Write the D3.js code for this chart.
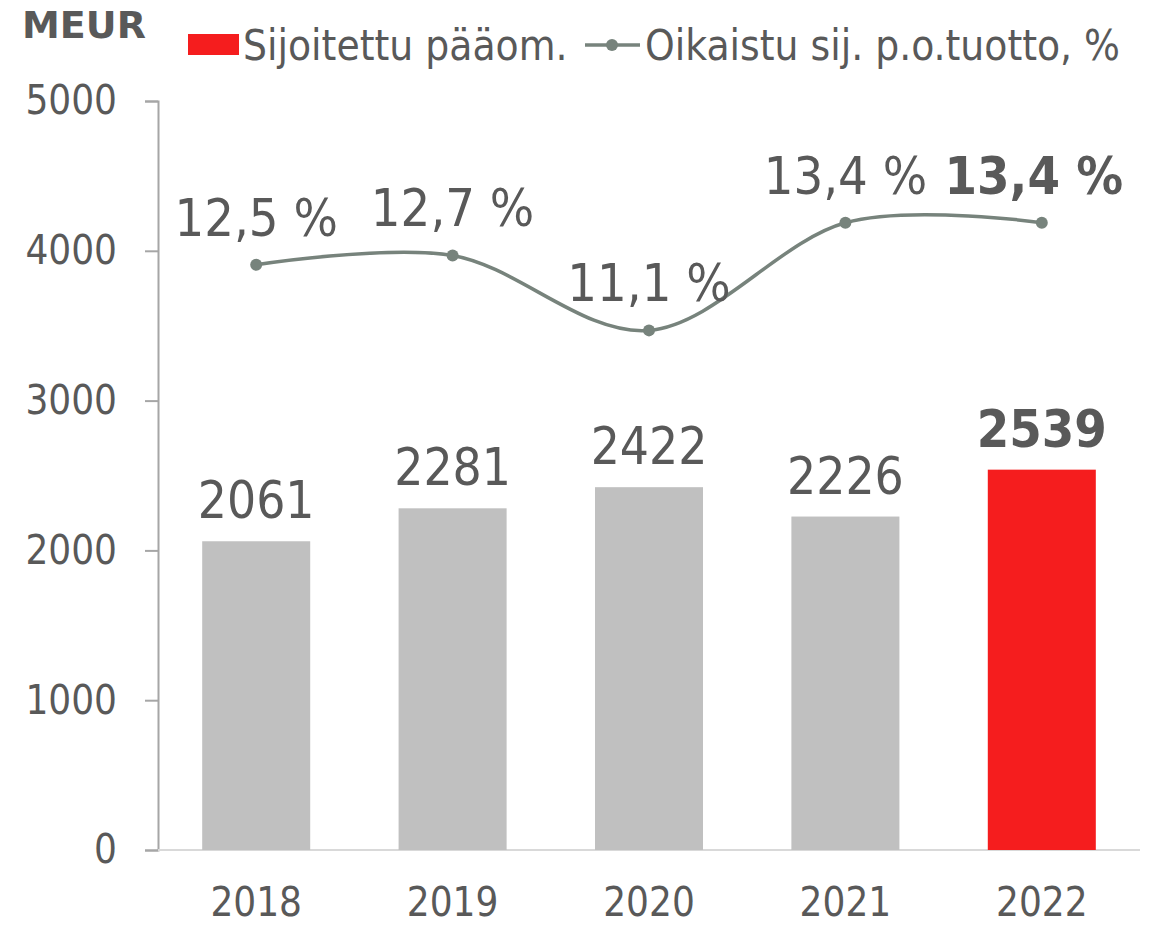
<!DOCTYPE html>
<html>
<head>
<meta charset="utf-8">
<script src="https://cdn.jsdelivr.net/npm/d3@7"></script>
<style>
  body { margin: 0; background: #fff; }
  text { font-family: "DejaVu Sans Condensed", "DejaVu Sans", sans-serif; fill: #595959; }
</style>
</head>
<body>
<div id="chart"></div>
<script>
var years = ["2018", "2019", "2020", "2021", "2022"];
var capital = [2061, 2281, 2422, 2226, 2539];
var returnPct = [12.5, 12.7, 11.1, 13.4, 13.4];
var returnLabels = ["12,5 %", "12,7 %", "11,1 %", "13,4 %", "13,4 %"];
var yTicks = [0, 1000, 2000, 3000, 4000, 5000];

var svgWidth = 1163;
var svgHeight = 925;

var margin = { top: 101, right: 23, bottom: 75, left: 158 };
var width = svgWidth - margin.left - margin.right;
var height = svgHeight - margin.top - margin.bottom;

var svg = d3.select("#chart")
  .append("svg")
    .attr("width", svgWidth)
    .attr("height", svgHeight);

var chartGroup = svg.append("g")
  .attr("transform", `translate(${margin.left}, ${margin.top})`);

// scales
var xScale = d3.scaleBand()
  .domain(years)
  .range([0, width])
  .paddingInner(0.45)
  .paddingOuter(0.225);

var yScale = d3.scaleLinear()
  .domain([0, 5000])
  .range([height, 0]);

// hidden secondary axis for the percentage line
var y2Scale = d3.scaleLinear()
  .domain([0, 16])
  .range([height, 0]);

// y axis
var leftAxis = d3.axisLeft(yScale)
  .tickValues(yTicks)
  .tickSize(13)
  .tickPadding(28)
  .tickFormat(d3.format("d"));

var yAxisG = chartGroup.append("g").call(leftAxis);
yAxisG.select(".domain").attr("stroke", "#a6a6a6").attr("stroke-width", 2);
yAxisG.selectAll(".tick line").attr("stroke", "#a6a6a6").attr("stroke-width", 2);
yAxisG.selectAll(".tick text")
  .attr("font-size", 40)
  .attr("fill", "#595959")
  .style("font-family", "DejaVu Sans Condensed");

// baseline
chartGroup.append("line")
  .attr("x1", 0)
  .attr("x2", width)
  .attr("y1", yScale(0))
  .attr("y2", yScale(0))
  .attr("stroke", "#d9d9d9")
  .attr("stroke-width", 2);

// x labels
var bottomAxis = d3.axisBottom(xScale).tickSize(0).tickPadding(0);
var xAxisG = chartGroup.append("g")
  .attr("transform", `translate(0, ${height})`)
  .call(bottomAxis);
xAxisG.select(".domain").remove();
xAxisG.selectAll(".tick text")
  .attr("dy", null)
  .attr("y", 66)
  .attr("font-size", 40)
  .attr("fill", "#595959")
  .style("font-family", "DejaVu Sans Condensed");

// bars
chartGroup.selectAll("rect.bar")
  .data(capital)
  .enter()
  .append("rect")
  .attr("class", "bar")
  .attr("x", (d, i) => xScale(years[i]))
  .attr("y", d => yScale(d))
  .attr("width", xScale.bandwidth())
  .attr("height", d => yScale(0) - yScale(d))
  .attr("fill", (d, i) => i === years.length - 1 ? "#f51d1e" : "#c0c0c0");

chartGroup.selectAll("text.barLabel")
  .data(capital)
  .enter()
  .append("text")
  .attr("class", "barLabel")
  .attr("x", (d, i) => xScale(years[i]) + xScale.bandwidth() / 2)
  .attr("y", d => yScale(d) - 23)
  .attr("text-anchor", "middle")
  .attr("font-size", (d, i) => i === years.length - 1 ? 52 : 51)
  .attr("font-weight", (d, i) => i === years.length - 1 ? "bold" : "normal")
  .text(d => d);

// return line
var lineData = returnPct.map((v, i) => ({ year: years[i], value: v, label: returnLabels[i] }));
var cx = d => xScale(d.year) + xScale.bandwidth() / 2;

var line = d3.line()
  .x(cx)
  .y(d => y2Scale(d.value))
  .curve(d3.curveCardinal.tension(0));

chartGroup.append("path")
  .datum(lineData)
  .attr("d", line)
  .attr("fill", "none")
  .attr("stroke", "#77837c")
  .attr("stroke-width", 3.5);

chartGroup.selectAll("circle.dot")
  .data(lineData)
  .enter()
  .append("circle")
  .attr("class", "dot")
  .attr("cx", cx)
  .attr("cy", d => y2Scale(d.value))
  .attr("r", 6)
  .attr("fill", "#77837c");

chartGroup.selectAll("text.pctLabel")
  .data(lineData)
  .enter()
  .append("text")
  .attr("class", "pctLabel")
  .attr("x", (d, i) => cx(d) - (i === years.length - 1 ? 8 : 0))
  .attr("y", d => y2Scale(d.value) - 29)
  .attr("text-anchor", "middle")
  .attr("font-size", 52)
  .attr("font-weight", (d, i) => i === years.length - 1 ? "bold" : "normal")
  .text(d => d.label);

// unit title
svg.append("text")
  .attr("x", 22)
  .attr("y", 38)
  .attr("font-size", 38)
  .attr("font-weight", "bold")
  .style("font-family", "DejaVu Sans")
  .text("MEUR");

// legend
var legend = svg.append("g");
legend.append("rect")
  .attr("x", 188)
  .attr("y", 34)
  .attr("width", 51)
  .attr("height", 21)
  .attr("fill", "#f51d1e");
legend.append("text")
  .attr("x", 243)
  .attr("y", 60)
  .attr("font-size", 42)
  .text("Sijoitettu pääom.");
legend.append("line")
  .attr("x1", 585)
  .attr("x2", 640)
  .attr("y1", 45)
  .attr("y2", 45)
  .attr("stroke", "#77837c")
  .attr("stroke-width", 3.5);
legend.append("circle")
  .attr("cx", 612)
  .attr("cy", 45)
  .attr("r", 6)
  .attr("fill", "#77837c");
legend.append("text")
  .attr("x", 645)
  .attr("y", 60)
  .attr("font-size", 42)
  .text("Oikaistu sij. p.o.tuotto, %");
</script>
</body>
</html>
